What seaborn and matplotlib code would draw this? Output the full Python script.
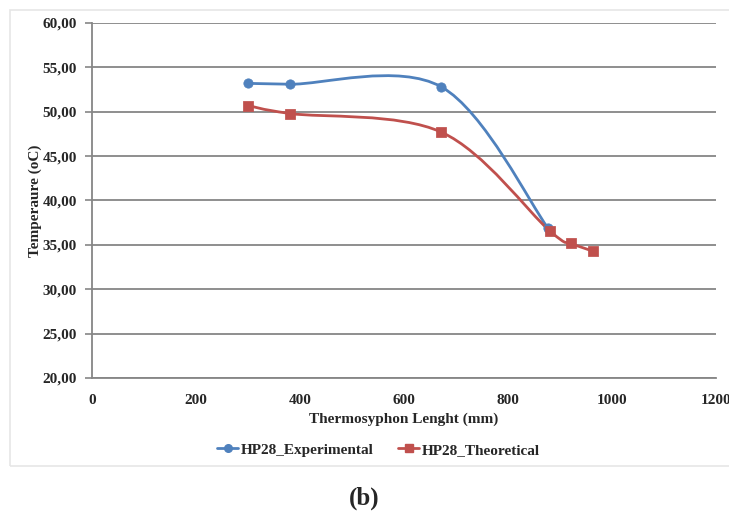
import numpy as np
import pandas as pd
import seaborn as sns
import matplotlib.pyplot as plt
from matplotlib.path import Path
from matplotlib.patches import PathPatch, Rectangle
from matplotlib.lines import Line2D

# data
exp_len = [300, 381, 672, 877]
exp_temp = [53.2, 53.1, 52.8, 36.9]
theo_len = [300, 381, 672, 880, 921, 963]
theo_temp = [50.7, 49.8, 47.7, 36.6, 35.2, 34.3]

blue = '#4F81BD'
red = '#C0504D'

sns.set_style('white')
plt.rcParams['font.family'] = ['Liberation Serif', 'DejaVu Serif']
plt.rcParams['font.weight'] = 'bold'

fig = plt.figure(figsize=(7.29, 5.26), dpi=100)
ax = fig.add_axes([0.1262, 0.2814, 0.8558, 0.6749])


def smooth_path(xs, ys):
    # Excel-like smoothed line: cubic bezier segments through the points
    pts = np.column_stack([xs, ys]).astype(float)
    n = len(pts)
    verts = [pts[0]]
    codes = [Path.MOVETO]
    for i in range(n - 1):
        p0 = pts[i - 1] if i > 0 else pts[i]
        p1 = pts[i]
        p2 = pts[i + 1]
        p3 = pts[i + 2] if i + 2 < n else pts[i + 1]
        c1 = p1 + (p2 - p0) / 6.0
        c2 = p2 - (p3 - p1) / 6.0
        verts += [c1, c2, p2]
        codes += [Path.CURVE4] * 3
    return Path(verts, codes)


for xs, ys, col in [(exp_len, exp_temp, blue), (theo_len, theo_temp, red)]:
    ax.add_patch(PathPatch(smooth_path(xs, ys), facecolor='none',
                           edgecolor=col, lw=2.0, zorder=3))

df_exp = pd.DataFrame({'len': exp_len, 'temp': exp_temp})
df_theo = pd.DataFrame({'len': theo_len, 'temp': theo_temp})
sns.scatterplot(data=df_exp, x='len', y='temp', ax=ax, color=blue,
                marker='o', s=45, edgecolor=blue, zorder=4)
sns.scatterplot(data=df_theo, x='len', y='temp', ax=ax, color=red,
                marker='s', s=45, edgecolor=red, zorder=4)

ax.set_xlim(0, 1200)
ax.set_ylim(20, 60)
ax.set_xticks(range(0, 1201, 200))
ax.set_yticks(range(20, 61, 5))
ax.set_yticklabels([f'{v},00' for v in range(20, 61, 5)])
ax.yaxis.grid(True, color='#868686', lw=1.3)
ax.set_axisbelow(True)

for s in ['top', 'right']:
    ax.spines[s].set_visible(False)
for s in ['left', 'bottom']:
    ax.spines[s].set_color('#868686')
    ax.spines[s].set_linewidth(1.3)

ax.tick_params(axis='y', which='major', left=True, length=5, width=1.2,
               color='#868686', labelsize=11, pad=6)
ax.tick_params(axis='x', which='major', bottom=False, labelsize=11, pad=8)
for lab in ax.get_xticklabels() + ax.get_yticklabels():
    lab.set_fontweight('bold')

ax.set_xlabel('Thermosyphon Lenght (mm)', fontsize=11, fontweight='bold',
              labelpad=4)
ax.set_ylabel('Temperaure (oC)', fontsize=11, fontweight='bold', labelpad=0)

handles = [Line2D([], [], color=blue, lw=2.0, marker='o', markersize=5.5),
           Line2D([], [], color=red, lw=2.0, marker='s', markersize=5.5)]
fig.legend(handles, ['HP28_Experimental', 'HP28_Theoretical'],
           loc='center', bbox_to_anchor=(0.519, 0.1445), ncol=2,
           frameon=False, prop={'weight': 'bold', 'size': 11},
           handlelength=1.4, handletextpad=0.15, columnspacing=1.6)

fig.patches.append(Rectangle((10 / 729, 1 - 466 / 526), 1.0, 456 / 526,
                             transform=fig.transFigure, fill=False,
                             edgecolor='#E6E6E6', lw=1.2, zorder=0))

fig.text(0.5, 1 - 498 / 526, '(b)', ha='center', va='center',
         fontsize=18, fontweight='bold')

fig.savefig('out.png', dpi=100)
